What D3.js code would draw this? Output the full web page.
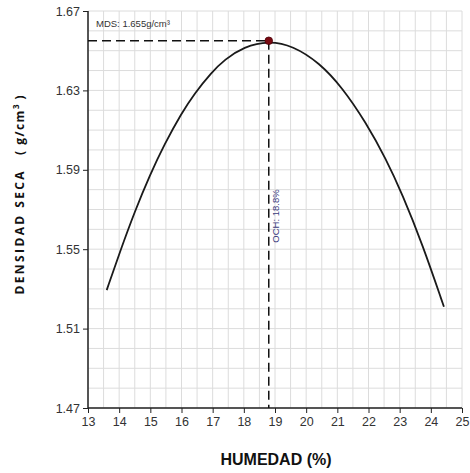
<!DOCTYPE html>
<html>
<head>
<meta charset="utf-8">
<script src="https://cdn.jsdelivr.net/npm/d3@7"></script>
<style>
  body { margin: 0; background: #fff; }
  svg { display: block; }
  text { font-family: "Liberation Sans Narrow", "Liberation Sans", Arial, sans-serif; }
</style>
</head>
<body>
<svg id="chart"></svg>
<script>
// curve (humedad %, densidad seca g/cm3)
const humedad = [13.6, 14.02, 14.5, 14.98, 15.46, 16.0, 16.42, 16.96, 17.38, 18.0, 18.8, 19.57, 20.42, 21.17, 21.91, 22.56, 23.09, 23.73, 24.42];
const densidad = [1.5294, 1.5485, 1.5690, 1.5872, 1.6031, 1.6185, 1.6285, 1.6390, 1.6455, 1.6520, 1.655, 1.6525, 1.6440, 1.6312, 1.6140, 1.5955, 1.5775, 1.5525, 1.521];

const xTicks = [13, 14, 15, 16, 17, 18, 19, 20, 21, 22, 23, 24, 25];
const yTicks = [1.47, 1.51, 1.55, 1.59, 1.63, 1.67];

const och = 18.8;
const mds = 1.655;

const width = 470, height = 473;
const margin = { top: 11, right: 8, bottom: 65, left: 88 };

const svg = d3.select("#chart").attr("width", width).attr("height", height);

const x = d3.scaleLinear().domain([13, 25]).range([margin.left, width - margin.right]);
const y = d3.scaleLinear().domain([1.47, 1.67]).range([height - margin.bottom, margin.top]);

// grid
const grid = svg.append("g").attr("stroke", "#dcdcdc").attr("stroke-width", 1);
d3.range(13, 25.01, 0.5).forEach((v) => {
  grid.append("line")
    .attr("x1", x(v)).attr("x2", x(v))
    .attr("y1", y(1.47)).attr("y2", y(1.67));
});
d3.range(147, 167.5, 1).forEach((v) => {
  grid.append("line")
    .attr("x1", x(13)).attr("x2", x(25))
    .attr("y1", y(v / 100)).attr("y2", y(v / 100));
});

// axes
const xAxis = svg.append("g")
  .attr("transform", `translate(0,${y(1.47)})`)
  .call(d3.axisBottom(x).tickValues(xTicks).tickFormat(d3.format("d")).tickSize(5).tickPadding(4));
const yAxis = svg.append("g")
  .attr("transform", `translate(${x(13)},0)`)
  .call(d3.axisLeft(y).tickValues(yTicks).tickFormat(d3.format(".2f")).tickSize(5).tickPadding(3));

[xAxis, yAxis].forEach((a) => {
  a.select(".domain").attr("stroke", "#222").attr("stroke-width", 1.5);
  a.selectAll(".tick line").attr("stroke", "#222");
  a.selectAll(".tick text")
    .attr("fill", "#333")
    .style("font-size", "12.5px")
    .style("font-family", '"Liberation Sans Narrow", "Liberation Sans", Arial, sans-serif');
});
yAxis.select(".domain").attr("d", `M0,${y(1.47)}V${y(1.67)}`);
xAxis.select(".domain").attr("d", `M${x(13)},0H${x(25)}`);

// dashed guides
svg.append("line")
  .attr("x1", x(13)).attr("x2", x(och))
  .attr("y1", y(mds)).attr("y2", y(mds))
  .attr("stroke", "#111").attr("stroke-width", 1.5)
  .attr("stroke-dasharray", "9,5");
svg.append("line")
  .attr("x1", x(och)).attr("x2", x(och))
  .attr("y1", y(mds)).attr("y2", y(1.47))
  .attr("stroke", "#111").attr("stroke-width", 1.5)
  .attr("stroke-dasharray", "9,5");

// curve
const pts = humedad.map((h, i) => [h, densidad[i]]);
const line = d3.line()
  .x((d) => x(d[0]))
  .y((d) => y(d[1]))
  .curve(d3.curveBasis);

svg.append("path")
  .datum(pts)
  .attr("d", line)
  .attr("fill", "none")
  .attr("stroke", "#1a1a1a")
  .attr("stroke-width", 1.8);

// optimum point
svg.append("circle")
  .attr("cx", x(och)).attr("cy", y(mds)).attr("r", 3.8)
  .attr("fill", "#7a0a12").attr("stroke", "#4a0008").attr("stroke-width", 0.8);

// labels
svg.append("text")
  .attr("x", 96).attr("y", 27)
  .attr("fill", "#333")
  .style("font-size", "9.5px")
  .style("font-family", "Arial, 'Liberation Sans', sans-serif")
  .text("MDS: 1.655g/cm³");

svg.append("text")
  .attr("transform", `translate(${x(och) + 10},216) rotate(-90)`)
  .attr("text-anchor", "middle")
  .attr("fill", "#3b3b80")
  .style("font-size", "9.5px")
  .style("font-family", "Arial, 'Liberation Sans', sans-serif")
  .text("OCH: 18.8%");

svg.append("text")
  .attr("x", 276).attr("y", 465)
  .attr("text-anchor", "middle")
  .attr("fill", "#111")
  .style("font-size", "16px")
  .style("font-weight", "bold")
  .text("HUMEDAD (%)");

const yt = svg.append("text")
  .attr("transform", "translate(24,195) rotate(-90)")
  .attr("text-anchor", "middle")
  .attr("fill", "#111")
  .style("font-size", "12px")
  .style("font-weight", "bold")
  .style("font-family", "'Open Sans', Arial, sans-serif");
yt.append("tspan").style("letter-spacing", "2.4px").text("DENSIDAD SECA");
yt.append("tspan").attr("dx", 14).style("letter-spacing", "1.5px").text("( g/cm");
yt.append("tspan").attr("dy", -5).style("font-size", "8px").text("3");
yt.append("tspan").attr("dy", 5).attr("dx", 5).text(")");
</script>
</body>
</html>
